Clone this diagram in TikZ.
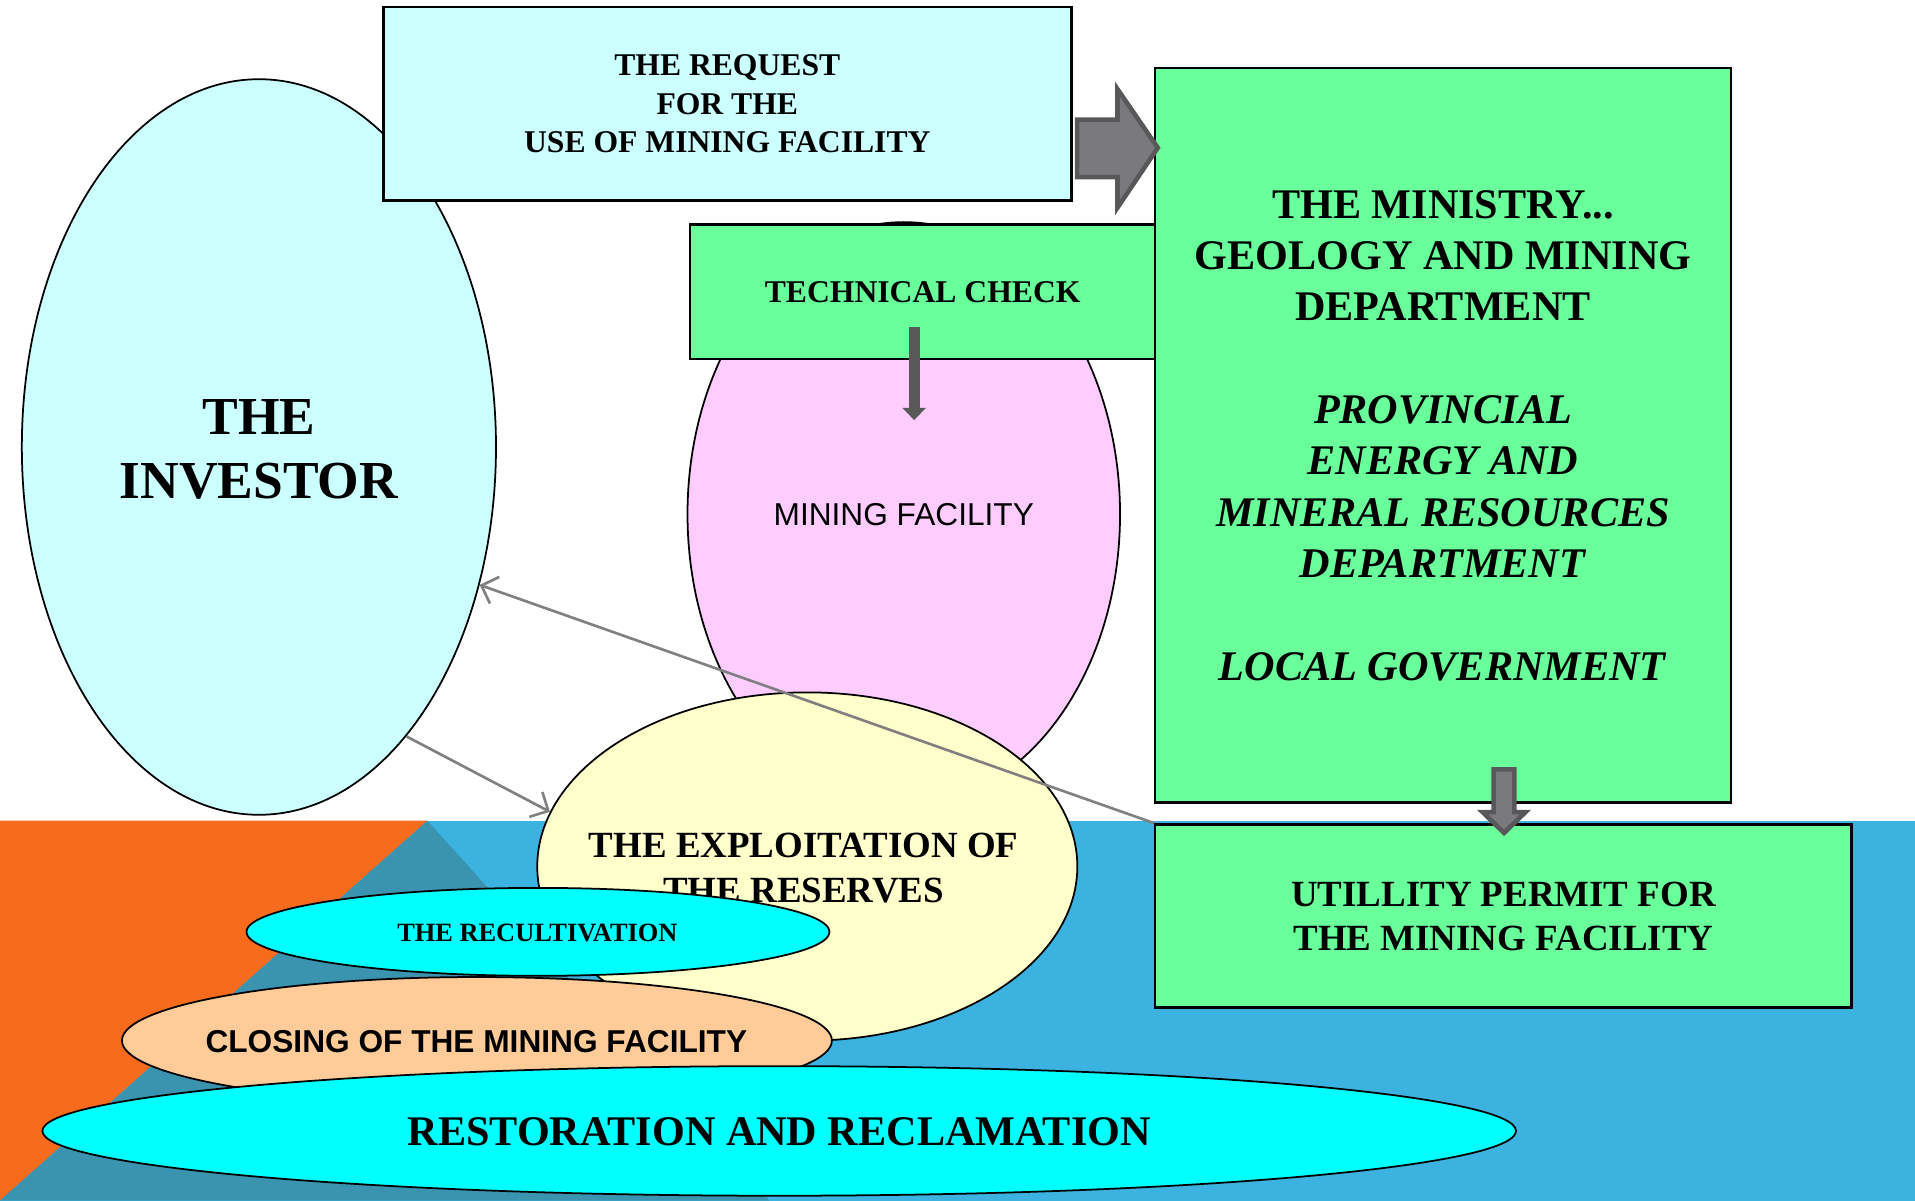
\documentclass[tikz,border=0pt]{standalone}
\usepackage{fontspec}
\setmainfont{Liberation Serif}
\newfontfamily\arialf{Liberation Sans}
\usetikzlibrary{shapes.geometric,arrows.meta}
\definecolor{lcyan}{HTML}{CCFFFF}
\definecolor{lpink}{HTML}{FFCCFF}
\definecolor{lgreen}{HTML}{69FF9B}
\definecolor{lyellow}{HTML}{FFFFCC}
\definecolor{cyanx}{HTML}{00FFFF}
\definecolor{peach}{HTML}{FFCC99}
\definecolor{bandblue}{HTML}{3BB2DF}
\definecolor{bandorange}{HTML}{F86B1C}
\definecolor{bandteal}{HTML}{3A94B0}
\definecolor{arrgray}{HTML}{7A7A7E}
\definecolor{arrdark}{HTML}{58585A}
\definecolor{techgray}{HTML}{595959}
\definecolor{thingray}{HTML}{808080}
\begin{document}
\begin{tikzpicture}[x=0.012213cm,y=-0.012213cm,
  box/.style={draw=black, line width=0.7pt, fill=lgreen, rectangle, inner sep=0pt, align=center},
  oval/.style={draw=black, line width=0.5pt, ellipse, inner sep=0pt},
  lbl/.style={inner sep=0pt, align=center},
  thinarrow/.style={draw=thingray, line width=0.75pt, -{Straight Barb[length=4pt,width=8pt]}},
  block/.style={fill=arrgray, draw=arrdark, line width=1.3pt, line join=miter}]
\useasboundingbox (0,0) rectangle (1568,983);
% background band
\fill[bandblue] (0,672) rectangle (1568,983);
\fill[bandorange] (0,672) -- (350,672) -- (0,983) -- cycle;
\fill[bandteal] (350,672) -- (630,983) -- (0,983) -- cycle;
% investor
\node[oval, fill=lcyan, minimum width=4.739cm, minimum height=7.352cm] (inv) at (212,366) {};
\node[lbl, font=\fontsize{15.2}{18}\selectfont\bfseries] (invt) at (212,368) {THE\\INVESTOR};
% request
\node[box, fill=lcyan, minimum width=6.876cm, minimum height=1.930cm, font=\fontsize{9}{10.95}\selectfont\bfseries] (req) at (595.5,85) {THE REQUEST\\FOR THE\\USE OF MINING FACILITY};
% mining facility
\node[oval, fill=lpink, minimum width=4.323cm, minimum height=5.838cm, font=\arialf\fontsize{9}{11}\selectfont] (mine) at (740,421) {MINING FACILITY};
% technical check
\node[box, minimum width=4.653cm, minimum height=1.343cm, font=\fontsize{9}{11}\selectfont\bfseries] (tech) at (755.5,239) {TECHNICAL CHECK};
% ministry
\node[box, minimum width=5.752cm, minimum height=7.340cm, font=\fontsize{12}{14.6}\selectfont\bfseries] (mini) at (1181.5,356.5)
 {THE MINISTRY...\\GEOLOGY AND MINING\\DEPARTMENT\\[14.6pt]\textit{PROVINCIAL}\\\textit{ENERGY AND}\\\textit{MINERAL RESOURCES}\\\textit{DEPARTMENT}\\[14.6pt]\textit{LOCAL GOVERNMENT}};
% utility permit
\node[box, minimum width=6.961cm, minimum height=1.832cm, font=\fontsize{10.5}{12.5}\selectfont\bfseries] (util) at (1231,750) {UTILLITY PERMIT FOR\\THE MINING FACILITY};
% exploitation
\node[oval, fill=lyellow, minimum width=5.398cm, minimum height=3.481cm] (exp) at (661,709.5) {};
\node[lbl, font=\fontsize{10.5}{12.9}\selectfont\bfseries] (expt) at (658,710.5) {THE EXPLOITATION OF\\THE RESERVES};
% thin arrows
\draw[thinarrow] (inv.-63) -- (exp.168);
\draw[thinarrow] (util.north west) -- (inv.-32.7);
% recultivation
\node[oval, fill=cyanx, minimum width=5.826cm, minimum height=0.879cm] (rec) at (440.5,763) {};
\node[lbl, font=\fontsize{7.5}{9}\selectfont\bfseries] (rect) at (440,764) {THE RECULTIVATION};
% closing
\node[oval, fill=peach, minimum width=7.096cm, minimum height=1.270cm] (clo) at (390.5,852) {};
\node[lbl, font=\arialf\fontsize{9}{11}\selectfont\bfseries] (clot) at (390,853) {CLOSING OF THE MINING FACILITY};
% restoration
\node[oval, fill=cyanx, minimum width=14.729cm, minimum height=1.295cm] (res) at (638,926) {};
\node[lbl, font=\fontsize{12}{14}\selectfont\bfseries] (rest) at (638,927) {RESTORATION AND RECLAMATION};
% block arrows
\filldraw[block] (882,98) -- (915,98) -- (915,73) -- (948,121) -- (915,170) -- (915,145) -- (882,145) -- cycle;
\filldraw[block] (1223,630) -- (1240,630) -- (1240,665) -- (1249,665) -- (1231.5,682) -- (1214,665) -- (1223,665) -- cycle;
% technical check arrow
\coordinate (ta) at (748.5,268);
\coordinate (tb) at (748.5,344);
\draw[techgray, line width=3.1pt, -{Triangle[length=3.5pt,width=6.5pt]}] (ta) -- (tb);
\end{tikzpicture}
\end{document}
